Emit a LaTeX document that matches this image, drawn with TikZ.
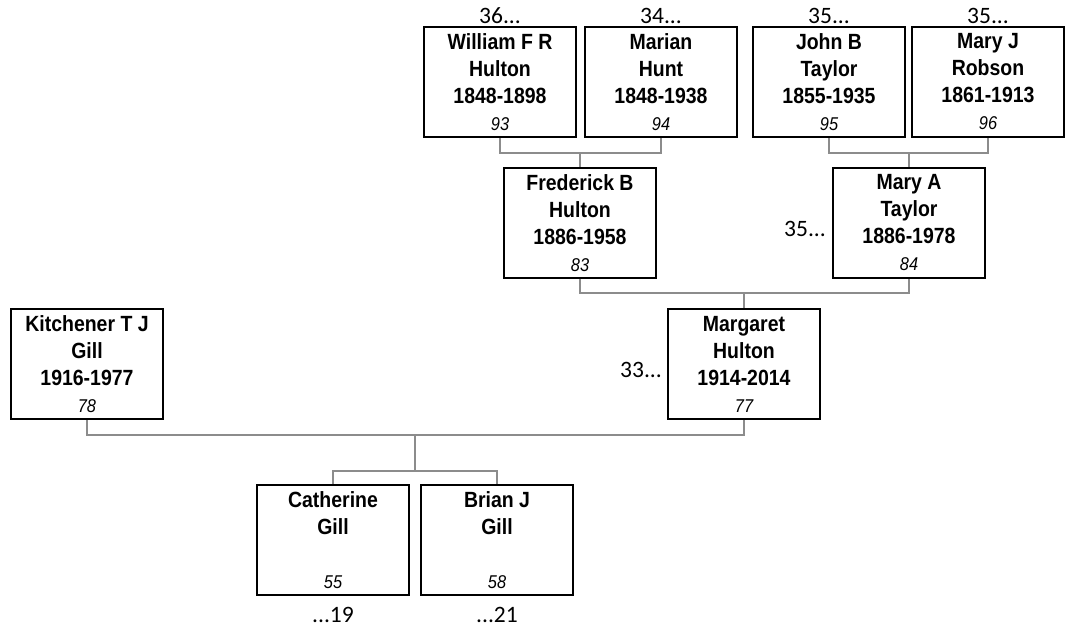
\documentclass[tikz,border=0pt]{standalone}
\usepackage{fontspec}
\newfontfamily\namefont[FakeStretch=0.885]{Liberation Sans}
\newfontfamily\numfont{Carlito}
\definecolor{conngray}{RGB}{140,140,140}
\tikzset{
  person/.style={draw=black, line width=2pt, minimum width=152pt, minimum height=110pt,
    inner sep=0pt, align=center, font=\namefont\bfseries\fontsize{22}{27}\selectfont},
  conn/.style={draw=conngray, line width=2pt},
  reflabel/.style={font=\numfont\fontsize{23.5}{27}\selectfont, inner sep=0pt},
}
\newcommand{\refno}[1]{{\namefont\mdseries\itshape\fontsize{18.5}{27}\selectfont #1}}
\begin{document}
\begin{tikzpicture}[x=1pt,y=-1pt]
\useasboundingbox (0,0) rectangle (1071,628);
% row 1
\node[person] (william) at (500,82) {William F R\\Hulton\\1848-1898\\\refno{93}};
\node[person] (marian) at (661,82) {Marian\\Hunt\\1848-1938\\\refno{94}};
\node[person] (john) at (829,82) {John B\\Taylor\\1855-1935\\\refno{95}};
\node[person] (maryj) at (988,82) {Mary J\\Robson\\1861-1913\\\refno{96}};
% row 2
\node[person] (frederick) at (580,223) {Frederick B\\Hulton\\1886-1958\\\refno{83}};
\node[person] (marya) at (909,223) {Mary A\\Taylor\\1886-1978\\\refno{84}};
% row 3
\node[person] (kitchener) at (87,364) {Kitchener T J\\Gill\\1916-1977\\\refno{78}};
\node[person] (margaret) at (744,364) {Margaret\\Hulton\\1914-2014\\\refno{77}};
% row 4
\node[person] (catherine) at (333,540) {Catherine\\Gill\\\mbox{}\\\refno{55}};
\node[person] (brian) at (497,540) {Brian J\\Gill\\\mbox{}\\\refno{58}};
% reference labels
\node[reflabel, anchor=base] (l36) at (500,24) {36...};
\node[reflabel, anchor=base] (l34) at (661,24) {34...};
\node[reflabel, anchor=base] (l35a) at (829,24) {35...};
\node[reflabel, anchor=base] (l35b) at (988,24) {35...};
\node[reflabel, anchor=base east] (l35c) at (826,237) {35...};
\node[reflabel, anchor=base east] (l33) at (662,377) {33...};
\node[reflabel, anchor=base] (l19) at (333,622) {...19};
\node[reflabel, anchor=base] (l21) at (497,622) {...21};
% connectors
\coordinate (j1) at (580,153);
\coordinate (j2) at (909,153);
\coordinate (j3) at (744,293);
\coordinate (j4) at (415,435);
\coordinate (j5) at (415,471);
\draw[conn] (william.south) |- (j1) -| (marian.south);
\draw[conn] (j1) -- (frederick.north);
\draw[conn] (john.south) |- (j2) -| (maryj.south);
\draw[conn] (j2) -- (marya.north);
\draw[conn] (frederick.south) |- (j3) -| (marya.south);
\draw[conn] (j3) -- (margaret.north);
\draw[conn] (kitchener.south) |- (j4) -| (margaret.south);
\draw[conn] (j4) -- (j5);
\draw[conn] (catherine.north) |- (j5) -| (brian.north);
\end{tikzpicture}
\end{document}
